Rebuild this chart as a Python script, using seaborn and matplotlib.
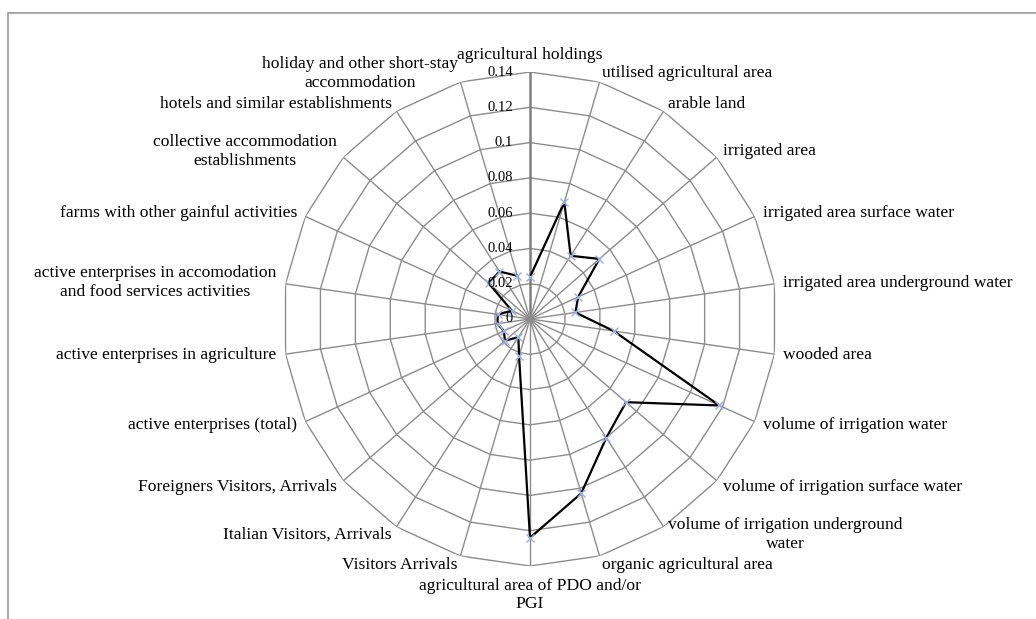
import numpy as np
import seaborn as sns
import matplotlib.pyplot as plt
from matplotlib.patches import Rectangle

# --- dados ---
categories = [
    'agricultural holdings', 'utilised agricultural area', 'arable land',
    'irrigated area', 'irrigated area surface water',
    'irrigated area underground water', 'wooded area',
    'volume of irrigation water', 'volume of irrigation surface water',
    'volume of irrigation underground\nwater', 'organic agricultural area',
    'agricultural area of PDO and/or\nPGI', 'Visitors Arrivals',
    'Italian Visitors, Arrivals', 'Foreigners Visitors, Arrivals',
    'active enterprises (total)', 'active enterprises in agriculture',
    'active enterprises in accomodation\nand food services activities',
    'farms with other gainful activities',
    'collective accommodation\nestablishments',
    'hotels and similar establishments',
    'holiday and other short-stay\naccommodation',
]
values = [0.0238, 0.069, 0.0426, 0.052, 0.030, 0.026, 0.048, 0.118, 0.072,
          0.080, 0.103, 0.124, 0.022, 0.0122, 0.0188, 0.0163, 0.0186, 0.0185,
          0.0113, 0.031, 0.032, 0.0255]
ticks = [0, 0.02, 0.04, 0.06, 0.08, 0.1, 0.12, 0.14]
tick_labels = ['0', '0.02', '0.04', '0.06', '0.08', '0.1', '0.12', '0.14']

sns.set_style('white')
plt.rcParams['font.family'] = ['Liberation Serif', 'DejaVu Serif']
plt.rcParams['text.color'] = 'black'

grid_color = '#8c8c8c'
rmax = ticks[-1]

n = len(categories)
theta = np.linspace(0, 2 * np.pi, n, endpoint=False)
theta_c = np.append(theta, theta[0])
vals_c = np.append(values, values[0])

W, H = 1036, 619
fig = plt.figure(figsize=(W / 100, H / 100), dpi=100)
cx, cy, R = 530, 319, 247
ax = fig.add_axes([(cx - R) / W, (H - cy - R) / H, 2 * R / W, 2 * R / H],
                  projection='polar')
ax.set_theta_zero_location('N')
ax.set_theta_direction(-1)
ax.set_ylim(0, rmax)
ax.grid(False)
ax.set_xticks([])
ax.set_yticks([])
ax.spines['polar'].set_visible(False)
ax.patch.set_alpha(0)

# grade poligonal
for r in ticks[1:]:
    ax.plot(theta_c, [r] * (n + 1), color=grid_color, lw=1, zorder=1)
for i, t in enumerate(theta):
    ax.plot([t, t], [0, rmax], color='#7f7f7f' if i == 0 else grid_color,
            lw=1.8 if i == 0 else 1, zorder=1)

# serie
sns.lineplot(x=theta_c, y=vals_c, sort=False, ax=ax, color='black', lw=1.6,
             marker='x', markersize=5.5, markeredgecolor='#9db1de',
             markeredgewidth=1, zorder=3)
ax.set_xlabel('')
ax.set_ylabel('')

# rotulos do eixo radial
for r, lab in zip(ticks, tick_labels):
    ax.annotate(lab, xy=(0, r), xytext=(-17, 0), textcoords='offset pixels',
                ha='right', va='center', fontsize=10.5, zorder=4)

# rotulos das categorias
r_lab = rmax * (R + 9) / R
for t, lab in zip(theta, categories):
    s, c = np.sin(t), np.cos(t)
    if abs(s) < 0.01:
        ha = 'center'
        va = 'bottom' if c > 0 else 'top'
        rr = r_lab if c > 0 else rmax * (R + 12) / R
    else:
        ha = 'left' if s > 0 else 'right'
        va = 'center'
        rr = r_lab
    ax.text(t, rr, lab, ha=ha, va=va, fontsize=12.6,
            multialignment='center', linespacing=1.2)

# moldura
fig.add_artist(Rectangle((8 / W, -0.5), 2, 0.5 + 1 - 12.5 / H,
                         transform=fig.transFigure, fill=False,
                         edgecolor='#999999', lw=1.2))

plt.savefig('out.png', dpi=100)
plt.close()
